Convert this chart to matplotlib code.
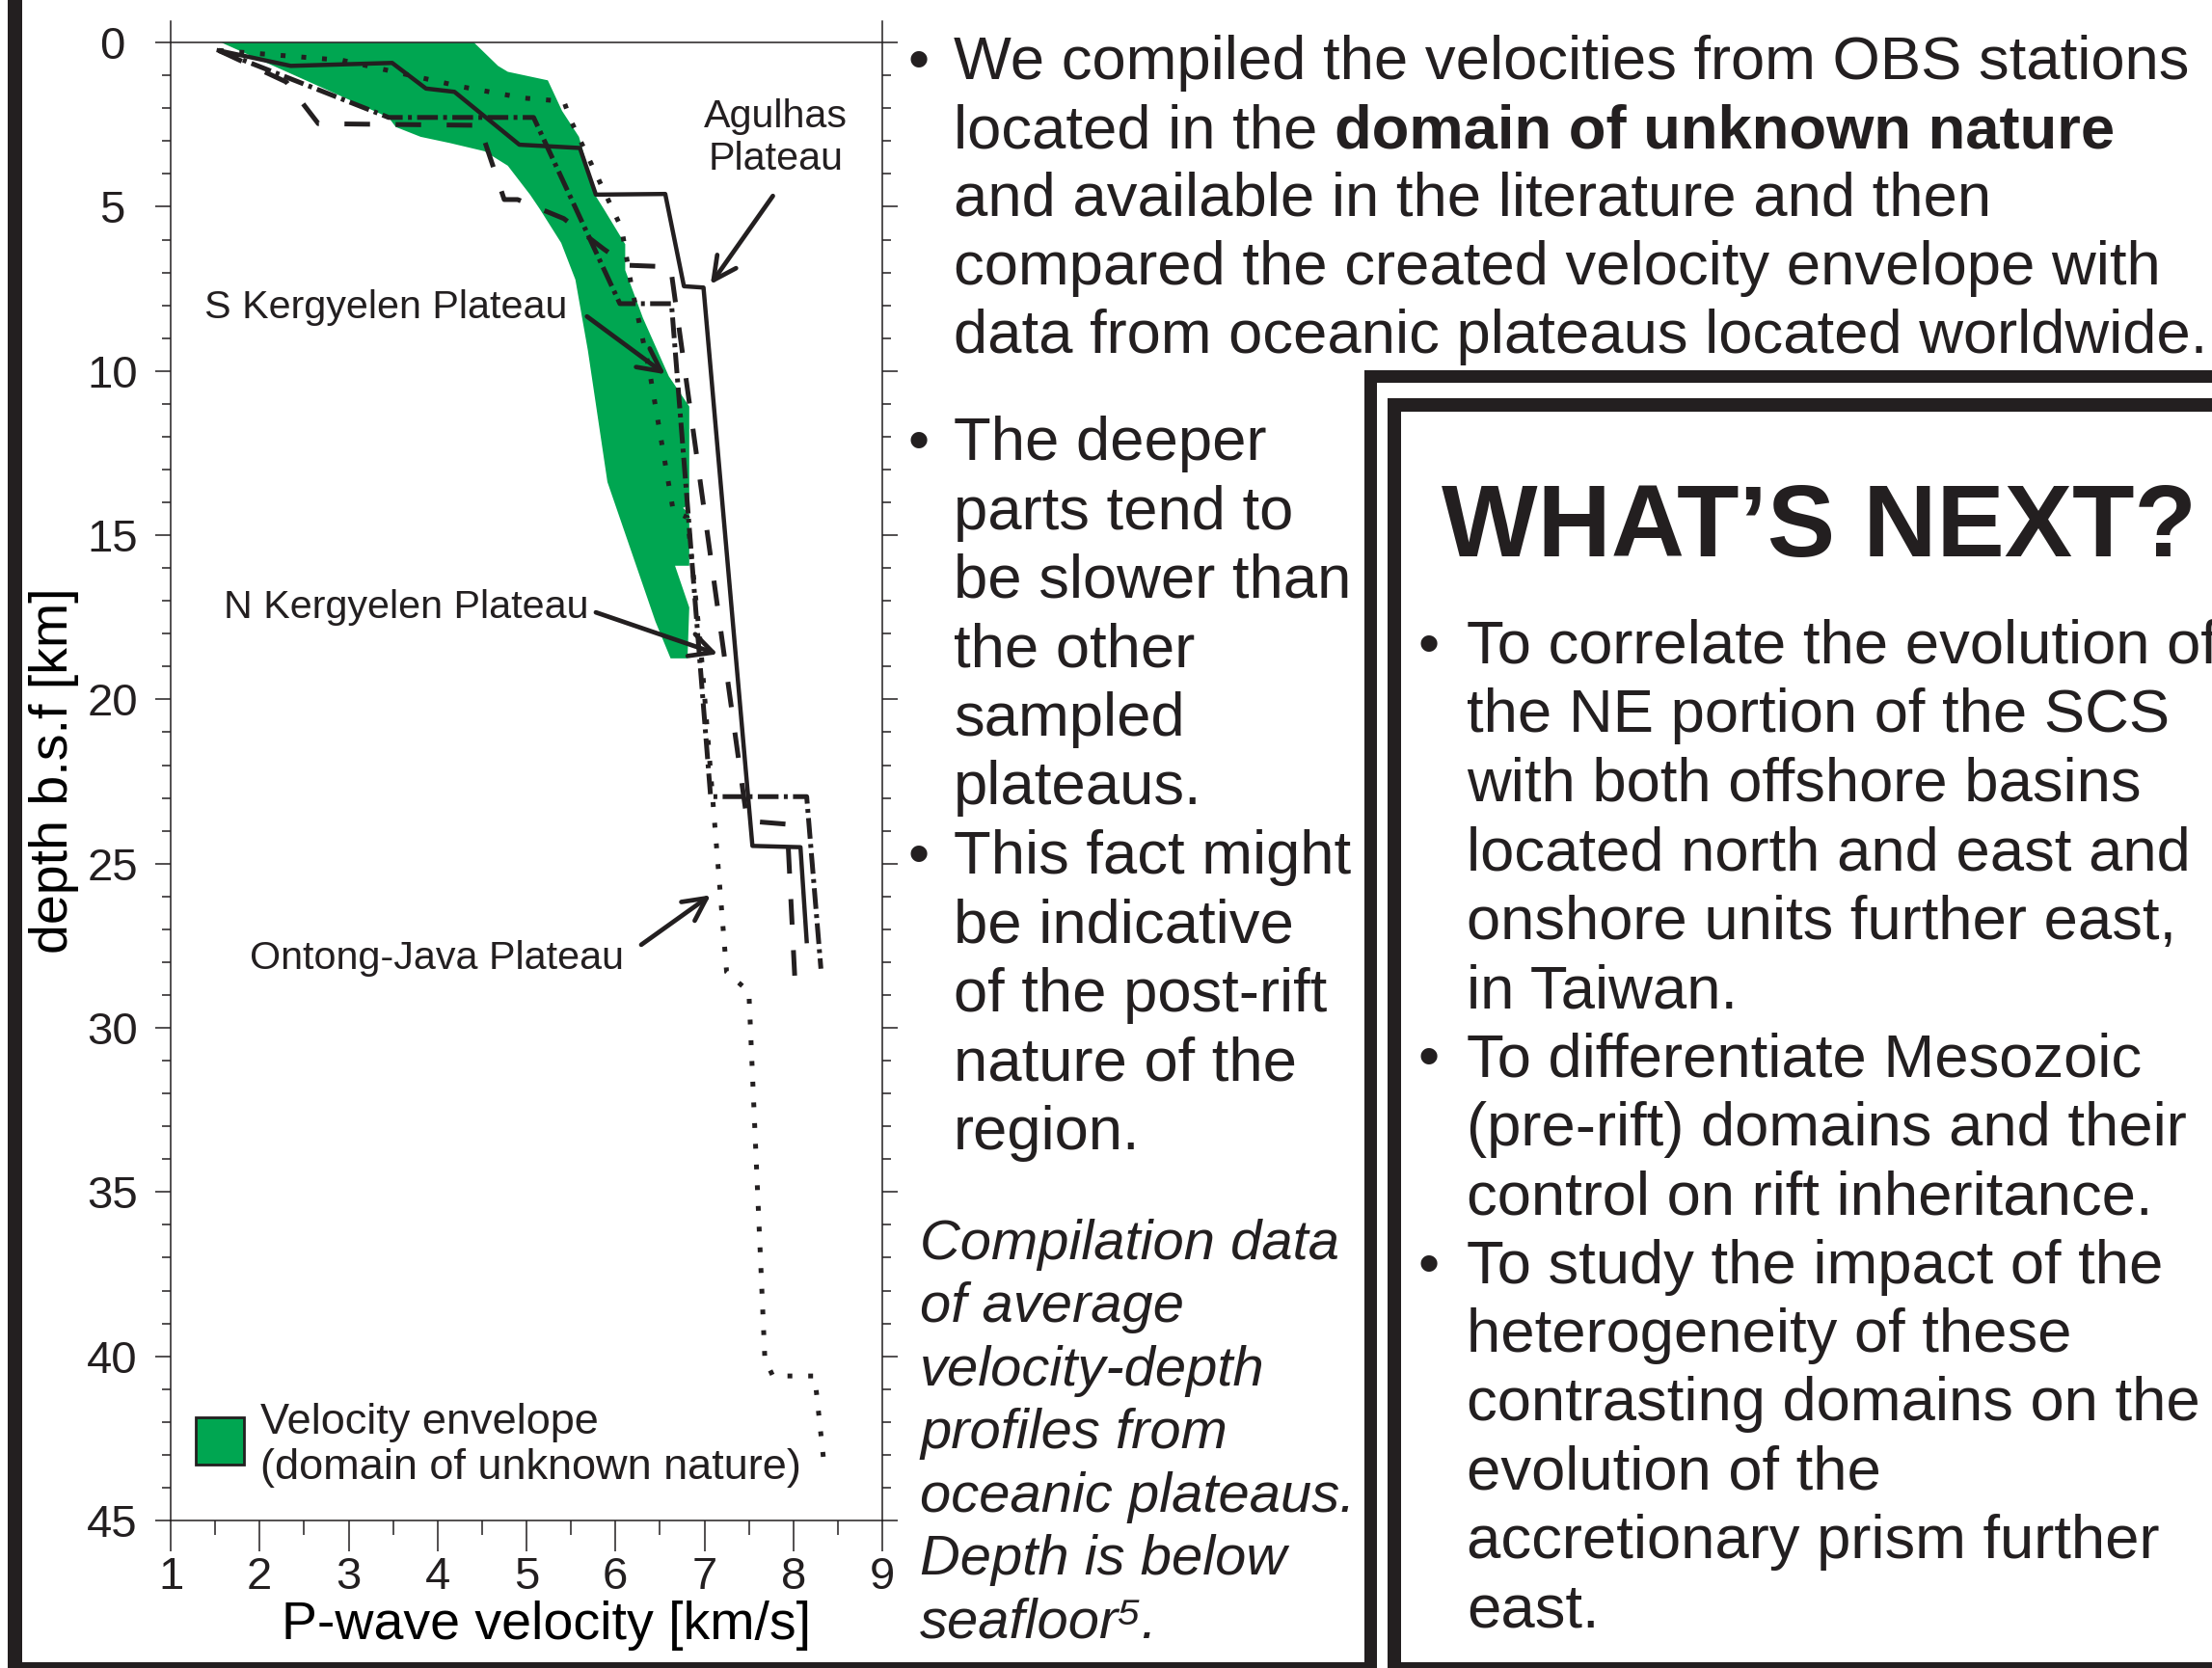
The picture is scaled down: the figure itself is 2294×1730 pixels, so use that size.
import matplotlib
matplotlib.use("Agg")
from matplotlib import pyplot as plt
from matplotlib.patches import Rectangle
from matplotlib.ticker import MultipleLocator

INK = "#231f20"
GREEN = "#00a651"

# velocity envelope of the domain of unknown nature (P-wave km/s, depth km)
ENV_V = [1.57, 4.41, 4.68, 4.79, 5.24, 5.40, 5.59, 5.78, 5.87, 6.11, 6.11, 6.31,
         6.60, 6.83, 6.83, 6.76, 6.83, 6.83, 6.67, 6.83, 6.81, 6.62, 6.45, 5.91,
         5.69, 5.55, 5.39, 5.15, 5.04, 4.79, 4.53, 4.14, 3.81, 3.53, 3.45]
ENV_D = [0.0, 0.0, 0.71, 0.89, 1.15, 2.08, 2.87, 4.68, 5.07, 6.14, 6.93, 8.39,
         10.16, 11.08, 14.07, 14.17, 14.35, 15.93, 15.93, 17.2, 18.75, 18.75, 17.63, 13.38,
         9.37, 7.22, 6.1, 5.07, 4.63, 3.75, 3.31, 3.06, 2.87, 2.57, 2.28]

# plateau profiles
AGULHAS_V = [1.54, 2.35, 3.49, 3.87, 4.19, 4.92, 5.60, 5.78, 6.56, 6.77, 6.99, 7.54, 8.08, 8.15]
AGULHAS_D = [0.24, 0.71, 0.62, 1.40, 1.50, 3.11, 3.21, 4.63, 4.61, 7.42, 7.46, 24.46, 24.50, 27.36]

S_KERG_V = [1.54, 3.45, 5.08, 6.05, 6.63, 7.07, 8.15, 8.31]
S_KERG_D = [0.24, 2.28, 2.28, 7.95, 7.95, 22.96, 22.96, 28.20]

N_KERG_V = [1.54, 2.30, 2.66, 4.47, 4.75, 4.90, 5.42, 5.87, 6.13, 6.62, 7.48, 7.93, 8.02]
N_KERG_D = [0.24, 1.20, 2.47, 2.52, 4.78, 4.78, 5.36, 6.29, 6.78, 6.83, 23.70, 23.80, 28.67]

ONTONG_V = [1.54, 2.93, 3.38, 4.28, 4.97, 5.42, 5.50, 6.07, 6.18, 6.38, 6.65, 6.81, 6.96,
            7.10, 7.25, 7.50, 7.68, 7.77, 8.24, 8.35]
ONTONG_D = [0.24, 0.54, 0.81, 1.35, 1.69, 1.79, 2.38, 5.66, 7.42, 9.96, 14.26, 14.46, 18.45,
            23.25, 28.30, 28.90, 40.09, 40.60, 40.60, 43.40]

# side texts
BLOCK1 = ["We compiled the velocities from OBS stations",
          "located in the ",
          "and available in the literature and then",
          "compared the created velocity envelope with",
          "data from oceanic plateaus located worldwide."]
BLOCK1_BOLD = "domain of unknown nature"
BLOCK2 = ["The deeper", "parts tend to", "be slower than", "the other", "sampled",
          "plateaus.", "This fact might", "be indicative", "of the post-rift",
          "nature of the", "region."]
BLOCK2_BULLETS = [0, 6]
CAPTION = ["Compilation data", "of average", "velocity-depth", "profiles from",
           "oceanic plateaus.", "Depth is below", "seafloor\u2075."]
NEXT_TITLE = "WHAT\u2019S NEXT?"
NEXT_LINES = ["To correlate the evolution of", "the NE portion of the SCS",
              "with both offshore basins", "located north and east and",
              "onshore units further east,", "in Taiwan.",
              "To differentiate Mesozoic", "(pre-rift) domains and their",
              "control on rift inheritance.", "To study the impact of the",
              "heterogeneity of these", "contrasting domains on the",
              "evolution of the", "accretionary prism further", "east."]
NEXT_BULLETS = [0, 6, 9]

W, H = 2294, 1730

plt.rcParams['font.family'] = ['Liberation Sans', 'DejaVu Sans']
plt.rcParams['text.color'] = INK


def fx(px):
    return px / W


def fy(py):
    return 1 - py / H


fig = plt.figure(figsize=(W / 100, H / 100), dpi=100)
ax = fig.add_axes([fx(177), fy(1577), (915 - 177) / W, (1577 - 22) / H])
ax.set_xlim(1, 9)
ax.set_ylim(45, -0.65)

ax.fill(ENV_V, ENV_D, color=GREEN, lw=0, zorder=1)
ax.plot(AGULHAS_V, AGULHAS_D, color=INK, lw=3.2, zorder=3)
ax.plot(S_KERG_V, S_KERG_D, color=INK, lw=3.6, ls=(0, (4.3, 1.1, 0.8, 1.1)), zorder=3)
ax.plot(N_KERG_V, N_KERG_D, color=INK, lw=3.6, ls=(0, (5.3, 5.3)), zorder=3)
ax.plot(ONTONG_V, ONTONG_D, color=INK, lw=3.6, ls=(0, (1, 3.3)), zorder=3)

# labels + arrows
lab_fs = 29.7
ax.text(7.80, 2.57, "Agulhas", fontsize=lab_fs, ha='center', va='baseline')
ax.text(7.80, 3.87, "Plateau", fontsize=lab_fs, ha='center', va='baseline')
ax.text(1.38, 8.39, "S Kergyelen Plateau", fontsize=lab_fs, va='baseline')
ax.text(1.60, 17.51, "N Kergyelen Plateau", fontsize=lab_fs, va='baseline')
ax.text(1.89, 28.21, "Ontong-Java Plateau", fontsize=lab_fs, va='baseline')
arrow = dict(arrowstyle='->,head_length=0.85,head_width=0.43', mutation_scale=20,
             lw=3.4, color=INK, shrinkA=0, shrinkB=0)
ax.annotate('', xy=(7.07, 7.36), xytext=(7.77, 4.67), arrowprops=arrow, zorder=4)
ax.annotate('', xy=(6.56, 10.1), xytext=(5.68, 8.34), arrowprops=arrow, zorder=4)
ax.annotate('', xy=(7.15, 18.62), xytext=(5.78, 17.35), arrowprops=arrow, zorder=4)
ax.annotate('', xy=(7.07, 25.96), xytext=(6.29, 27.47), arrowprops=arrow, zorder=4)

# legend
ax.add_patch(Rectangle((1.28, 41.85), 0.54, 1.45, facecolor=GREEN, edgecolor=INK, lw=2))
ax.text(2.01, 42.37, "Velocity envelope", fontsize=32.5, va='baseline')
ax.text(2.01, 43.73, "(domain of unknown nature)", fontsize=32.5, va='baseline')

# axes frame
ax.spines['top'].set_visible(False)
for side in ['left', 'right', 'bottom']:
    ax.spines[side].set_color(INK)
    ax.spines[side].set_linewidth(1.1)
ax.axhline(0, color=INK, lw=1.1, zorder=2)
ax.xaxis.set_major_locator(MultipleLocator(1))
ax.xaxis.set_minor_locator(MultipleLocator(0.5))
ax.yaxis.set_major_locator(MultipleLocator(5))
ax.yaxis.set_minor_locator(MultipleLocator(1))
ax.tick_params(axis='x', which='major', direction='out', length=23, width=1.1, pad=4,
               labelsize=34, colors=INK)
ax.tick_params(axis='x', which='minor', direction='out', length=10.8, width=1.1, colors=INK)
ax.tick_params(axis='y', which='major', left=True, right=True, direction='out', length=11.5,
               width=1.1, pad=32, labelsize=34, colors=INK)
ax.tick_params(axis='y', which='minor', left=True, right=True, direction='out', length=6.5,
               width=1.1, colors=INK)
for lab in ax.get_yticklabels():
    lab.set_horizontalalignment('center')

ax.set_xlabel("P-wave velocity [km/s]", fontsize=40)
ax.xaxis.label.set_va('baseline')
ax.xaxis.set_label_coords((567 - 177) / 738, (1577 - 1700) / 1555)
ax.set_ylabel("depth b.s.f [km]", fontsize=40)
ax.yaxis.label.set_va('center')
ax.yaxis.set_label_coords((56 - 177) / 738, 0.5)

# right-hand text
body_fs = 45.6
for k, line in enumerate(BLOCK1):
    t = fig.text(fx(989), fy(82 + 71 * k), line, fontsize=body_fs, va='baseline')
    if k == 1:
        bb = t.get_window_extent(fig.canvas.get_renderer())
        fig.text(bb.x1 / W, fy(82 + 71 * k), BLOCK1_BOLD, fontsize=body_fs,
                 fontweight='bold', va='baseline')
fig.text(fx(953), fy(82), "\u2022", fontsize=body_fs, ha='center', va='baseline')

for k, line in enumerate(BLOCK2):
    fig.text(fx(989), fy(477 + 71.5 * k), line, fontsize=body_fs, va='baseline')
    if k in BLOCK2_BULLETS:
        fig.text(fx(953), fy(477 + 71.5 * k), "\u2022", fontsize=body_fs,
                 ha='center', va='baseline')

for k, line in enumerate(CAPTION):
    fig.text(fx(954), fy(1306 + 65.4 * k), line, fontsize=41.7, style='italic',
             va='baseline')

fig.text(fx(1495), fy(577), NEXT_TITLE, fontsize=76, fontweight='bold', va='baseline')
for k, line in enumerate(NEXT_LINES):
    fig.text(fx(1521), fy(688 + 71.4 * k), line, fontsize=body_fs, va='baseline')
    if k in NEXT_BULLETS:
        fig.text(fx(1482), fy(688 + 71.4 * k), "\u2022", fontsize=body_fs,
                 ha='center', va='baseline')

# frames
BARS = [(8, 0, 23, 1730), (8, 1724, 1428, 1730), (1415, 384, 1428, 1730),
        (1415, 384, 2294, 397), (1439, 413, 1453, 1730), (1439, 413, 2294, 427),
        (1439, 1724, 2294, 1730)]
for x0, y0, x1, y1 in BARS:
    fig.add_artist(Rectangle((fx(x0), fy(y1)), (x1 - x0) / W, (y1 - y0) / H,
                             transform=fig.transFigure, facecolor=INK, lw=0))

fig.savefig("out.png", dpi=100)
